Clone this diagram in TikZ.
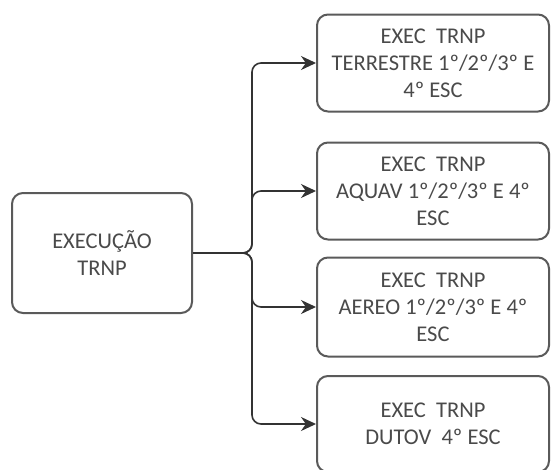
\documentclass[tikz,border=0pt]{standalone}
\usepackage{fontspec}
\setmainfont{Carlito}
\usetikzlibrary{arrows.meta}
\definecolor{boxline}{HTML}{5A5A5A}
\definecolor{txt}{HTML}{4A4A4A}
\definecolor{wire}{HTML}{333333}
\tikzset{
  stepbox/.style={draw=boxline, line width=2pt, rounded corners=11pt,
    fill=white, text=txt, align=center, inner sep=0pt,
    font=\fontsize{22.5}{27}\selectfont},
  branch/.style={draw=wire, line width=1.6pt, rounded corners=9pt,
    -{Stealth[length=15pt,width=14pt]}},
}
\begin{document}
\begin{tikzpicture}[x=1pt,y=-1pt]
\useasboundingbox (0,0) rectangle (551,469);
\clip (0,0) rectangle (551,469);
\fill[white] (0,0) rectangle (551,469);

\node[stepbox, minimum width=180pt, minimum height=120pt] (root) at (102,253)
  {EXECUÇÃO\\TRNP};

\node[stepbox, minimum width=232pt, minimum height=97pt] (terr) at (433,63)
  {EXEC\ \ TRNP\\TERRESTRE 1º/2º/3º E\\4º ESC};
\node[stepbox, minimum width=232pt, minimum height=97pt] (aqua) at (433,191)
  {EXEC\ \ TRNP\\AQUAV 1º/2º/3º E 4º\\ESC};
\node[stepbox, minimum width=232pt, minimum height=99pt] (aereo) at (433,307)
  {EXEC\ \ TRNP\\AEREO 1º/2º/3º E 4º\\ESC};
\node[stepbox, minimum width=232pt, minimum height=96pt] (dutov) at (433,424)
  {EXEC\ \ TRNP\\DUTOV\ \ 4º ESC};

\coordinate (trunk) at (252,253);
\draw[branch] (root.east) -- (trunk) |- (terr.west);
\draw[branch] (root.east) -- (trunk) |- (aqua.west);
\draw[branch] (root.east) -- (trunk) |- (aereo.west);
\draw[branch] (root.east) -- (trunk) |- (dutov.west);
\end{tikzpicture}
\end{document}
